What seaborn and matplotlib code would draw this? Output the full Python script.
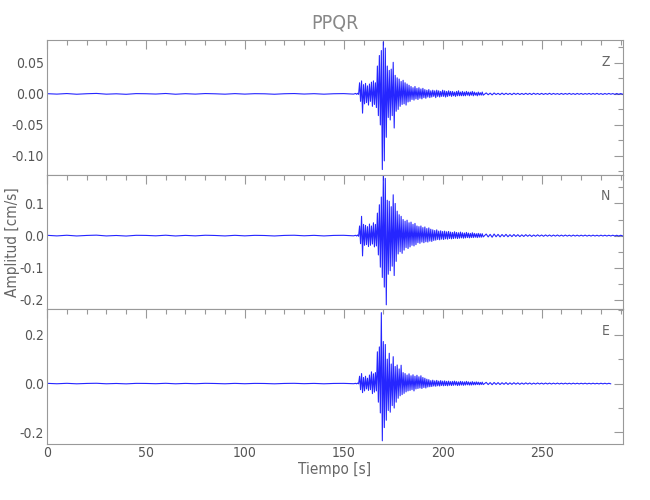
import numpy as np
import pandas as pd
import matplotlib
matplotlib.use("Agg")
import matplotlib.pyplot as plt
from matplotlib.ticker import MultipleLocator, FormatStrFormatter
import seaborn as sns

# sample times [s]: quiet part, event (upper/lower swing each second), coda
t_pre = np.arange(0, 156, 5)
t_main = np.arange(156, 221)

# ---- Z component [cm/s]
z_pre = [0.0004, -0.0003, 0.0006, -0.0005, 0.0003, 0.0008, -0.0004, 0.0002,
         -0.0006, 0.0005, 0.0003, -0.0002, 0.0007, -0.0005, 0.0004, -0.0003,
         0.0006, 0.0002, -0.0004, 0.0005, -0.0003, 0.0004, 0.0002, -0.0005,
         0.0003, 0.0006, -0.0002, 0.0004, -0.0004, 0.0003, 0.0005, -0.0003]
z_hi = [0.0008, 0.001, 0.018, 0.021, 0.015, 0.017, 0.013, 0.016, 0.019, 0.021,
        0.018, 0.045, 0.062, 0.070, 0.084, 0.074, 0.045, 0.038, 0.040, 0.051,
        0.030, 0.026, 0.024, 0.020, 0.022, 0.018, 0.016, 0.014, 0.012, 0.010,
        0.012, 0.009, 0.010, 0.008, 0.009, 0.007, 0.006, 0.007, 0.005, 0.006,
        0.005, 0.006, 0.005, 0.004, 0.006, 0.005, 0.004, 0.005, 0.004, 0.004,
        0.003, 0.004, 0.005, 0.003, 0.004, 0.003, 0.004, 0.003, 0.003, 0.004,
        0.003, 0.002, 0.003, 0.002, 0.003]
z_lo = [-0.0006, -0.0008, -0.012, -0.031, -0.016, -0.014, -0.018, -0.012, -0.020, -0.017,
        -0.022, -0.035, -0.050, -0.122, -0.108, -0.070, -0.038, -0.042, -0.035, -0.055,
        -0.028, -0.025, -0.020, -0.017, -0.016, -0.018, -0.013, -0.012, -0.009, -0.010,
        -0.008, -0.009, -0.007, -0.008, -0.006, -0.007, -0.005, -0.006, -0.005, -0.004,
        -0.006, -0.004, -0.005, -0.004, -0.004, -0.005, -0.004, -0.003, -0.004, -0.003,
        -0.004, -0.003, -0.003, -0.003, -0.003, -0.003, -0.002, -0.003, -0.002, -0.003,
        -0.002, -0.003, -0.002, -0.002, -0.002]
z_tail_hi = [0.0016, 0.0012, 0.0015, 0.001, 0.0013, 0.0011, 0.0009, 0.0012, 0.001,
             0.0008, 0.001, 0.0009, 0.0011, 0.0008, 0.0009, 0.0007, 0.001, 0.0008,
             0.0006, 0.0008, 0.0007, 0.0009, 0.0006, 0.0008, 0.0007, 0.0006, 0.0008,
             0.0007, 0.0009, 0.0006, 0.0007, 0.0008, 0.0006, 0.0007, 0.0006]
z_tail_lo = [-0.0013, -0.0015, -0.001, -0.0012, -0.0011, -0.0009, -0.0012, -0.0008, -0.001,
             -0.0009, -0.0008, -0.001, -0.0007, -0.0009, -0.0008, -0.0007, -0.0008, -0.0006,
             -0.0008, -0.0007, -0.0006, -0.0007, -0.0008, -0.0006, -0.0007, -0.0005, -0.0007,
             -0.0006, -0.0007, -0.0008, -0.0006, -0.0005, -0.0007, -0.0006, -0.0005]

# ---- N component
n_pre = [0.001, -0.0008, 0.0012, -0.001, 0.0006, 0.0015, -0.0009, 0.0005,
         -0.0012, 0.001, 0.0007, -0.0006, 0.0013, -0.001, 0.0008, -0.0007,
         0.0012, 0.0005, -0.0009, 0.001, -0.0007, 0.0009, 0.0004, -0.001,
         0.0007, 0.0012, -0.0005, 0.0009, -0.0009, 0.0007, 0.001, -0.0006]
n_hi = [0.001, 0.002, 0.030, 0.060, 0.035, 0.032, 0.028, 0.036, 0.030, 0.040,
        0.035, 0.070, 0.096, 0.120, 0.185, 0.178, 0.110, 0.107, 0.090, 0.127,
        0.100, 0.076, 0.065, 0.060, 0.050, 0.045, 0.048, 0.040, 0.042, 0.035,
        0.038, 0.030, 0.028, 0.030, 0.025, 0.027, 0.022, 0.024, 0.020, 0.018,
        0.016, 0.018, 0.014, 0.015, 0.013, 0.014, 0.012, 0.013, 0.011, 0.010,
        0.012, 0.010, 0.009, 0.011, 0.009, 0.008, 0.010, 0.008, 0.007, 0.009,
        0.007, 0.006, 0.007, 0.006, 0.006]
n_lo = [-0.001, -0.002, -0.025, -0.063, -0.030, -0.028, -0.034, -0.030, -0.026, -0.035,
        -0.032, -0.060, -0.098, -0.130, -0.160, -0.215, -0.120, -0.109, -0.095, -0.124,
        -0.080, -0.057, -0.050, -0.055, -0.045, -0.037, -0.040, -0.035, -0.030, -0.032,
        -0.028, -0.022, -0.024, -0.020, -0.022, -0.019, -0.020, -0.017, -0.018, -0.015,
        -0.014, -0.012, -0.013, -0.011, -0.012, -0.010, -0.011, -0.009, -0.010, -0.009,
        -0.008, -0.009, -0.008, -0.007, -0.008, -0.007, -0.006, -0.007, -0.006, -0.006,
        -0.005, -0.006, -0.005, -0.005, -0.004]
n_tail_hi = [0.005, 0.004, 0.005, 0.004, 0.0035, 0.004, 0.003, 0.0035, 0.003,
             0.0025, 0.003, 0.0025, 0.002, 0.0025, 0.002, 0.0022, 0.002, 0.0018,
             0.002, 0.0016, 0.0018, 0.0015, 0.0017, 0.0015, 0.0014, 0.0016, 0.0013,
             0.0015, 0.0012, 0.0014, 0.0013, 0.0012, 0.0013, 0.0011, 0.0012]
n_tail_lo = [-0.004, -0.005, -0.0035, -0.004, -0.003, -0.0035, -0.003, -0.0025, -0.003,
             -0.0025, -0.002, -0.0025, -0.002, -0.0018, -0.002, -0.0017, -0.0018, -0.0015,
             -0.0016, -0.0015, -0.0014, -0.0016, -0.0013, -0.0014, -0.0012, -0.0014, -0.0013,
             -0.0012, -0.0013, -0.0011, -0.0012, -0.0011, -0.001, -0.0012, -0.001]

# ---- E component
e_pre = [0.001, -0.0007, 0.0011, -0.0009, 0.0006, 0.0013, -0.0008, 0.0005,
         -0.0011, 0.0009, 0.0006, -0.0005, 0.0012, -0.0009, 0.0008, -0.0006,
         0.0011, 0.0004, -0.0008, 0.0009, -0.0006, 0.0008, 0.0004, -0.0009,
         0.0006, 0.0011, -0.0004, 0.0008, -0.0008, 0.0006, 0.0009, -0.0005]
e_hi = [0.001, 0.002, 0.030, 0.041, 0.025, 0.030, 0.022, 0.035, 0.048, 0.040,
        0.045, 0.130, 0.150, 0.290, 0.172, 0.160, 0.100, 0.124, 0.080, 0.110,
        0.070, 0.076, 0.060, 0.075, 0.045, 0.041, 0.035, 0.040, 0.032, 0.036,
        0.030, 0.034, 0.028, 0.032, 0.025, 0.022, 0.018, 0.016, 0.012, 0.014,
        0.011, 0.013, 0.010, 0.012, 0.010, 0.011, 0.009, 0.010, 0.008, 0.009,
        0.010, 0.008, 0.007, 0.009, 0.008, 0.007, 0.009, 0.007, 0.006, 0.008,
        0.006, 0.007, 0.006, 0.005, 0.006]
e_lo = [-0.001, -0.001, -0.025, -0.037, -0.030, -0.022, -0.028, -0.025, -0.041, -0.035,
        -0.030, -0.076, -0.120, -0.234, -0.180, -0.150, -0.110, -0.117, -0.090, -0.100,
        -0.076, -0.060, -0.050, -0.045, -0.040, -0.034, -0.030, -0.028, -0.025, -0.030,
        -0.022, -0.020, -0.018, -0.020, -0.016, -0.018, -0.014, -0.013, -0.012, -0.010,
        -0.011, -0.009, -0.010, -0.008, -0.009, -0.008, -0.009, -0.007, -0.008, -0.007,
        -0.006, -0.008, -0.007, -0.006, -0.007, -0.006, -0.005, -0.006, -0.006, -0.005,
        -0.005, -0.004, -0.005, -0.004, -0.004]
e_tail_hi = [0.005, 0.004, 0.0045, 0.004, 0.0035, 0.004, 0.003, 0.0035, 0.003,
             0.0025, 0.003, 0.0025, 0.002, 0.0025, 0.002, 0.0022, 0.002, 0.0018,
             0.002, 0.0016, 0.0018, 0.0015, 0.0017, 0.0015, 0.0014, 0.0016, 0.0013,
             0.0015, 0.0012, 0.0014, 0.0013, 0.0012]
e_tail_lo = [-0.004, -0.0045, -0.0035, -0.004, -0.003, -0.0035, -0.003, -0.0025, -0.003,
             -0.0025, -0.002, -0.0025, -0.002, -0.0018, -0.002, -0.0017, -0.0018, -0.0015,
             -0.0016, -0.0015, -0.0014, -0.0016, -0.0013, -0.0014, -0.0012, -0.0014, -0.0013,
             -0.0012, -0.0013, -0.0011, -0.0012, -0.0011]

components = ["Z", "N", "E"]
ylims = [(-0.130, 0.087), (-0.228, 0.190), (-0.245, 0.305)]
ymajor = [0.05, 0.1, 0.2]
yminor = [0.025, 0.05, 0.1]
yfmt = ["%.2f", "%.1f", "%.1f"]


def trace(pre, hi, lo, thi, tlo):
    tt = np.arange(222, 222 + 2 * len(thi), 2)
    x = np.concatenate([t_pre, np.column_stack([t_main, t_main + 0.5]).ravel(),
                        np.column_stack([tt, tt + 1]).ravel()])
    y = np.concatenate([pre, np.column_stack([hi, lo]).ravel(),
                        np.column_stack([thi, tlo]).ravel()])
    return pd.DataFrame({"t": x, "amp": y})


traces = [trace(z_pre, z_hi, z_lo, z_tail_hi, z_tail_lo),
          trace(n_pre, n_hi, n_lo, n_tail_hi, n_tail_lo),
          trace(e_pre, e_hi, e_lo, e_tail_hi, e_tail_lo)]

sns.set_style("white")
plt.rcParams["font.family"] = ["Liberation Sans Narrow", "DejaVu Sans"]
plt.rcParams["font.stretch"] = "condensed"

fig, axes = plt.subplots(3, 1, figsize=(6.5, 5), dpi=100, sharex=True,
                         gridspec_kw=dict(hspace=0))
fig.subplots_adjust(left=0.0723, right=0.958, top=0.92, bottom=0.113)

for i, ax in enumerate(axes):
    sns.lineplot(data=traces[i], x="t", y="amp", ax=ax, sort=False, estimator=None,
                 color="#0000ff", linewidth=0.8, alpha=0.85)
    ax.set_xlim(0, 291)
    ax.set_ylim(*ylims[i])
    ax.xaxis.set_major_locator(MultipleLocator(50))
    ax.xaxis.set_minor_locator(MultipleLocator(10))
    ax.yaxis.set_major_locator(MultipleLocator(ymajor[i]))
    ax.yaxis.set_minor_locator(MultipleLocator(yminor[i]))
    ax.yaxis.set_major_formatter(FormatStrFormatter(yfmt[i]))
    ax.tick_params(which="both", direction="in", top=True, right=True,
                   color="#999999", labelcolor="#555555", labelsize=10, pad=2)
    ax.tick_params(which="major", length=6.5, width=0.8)
    ax.tick_params(which="minor", length=3.5, width=0.8)
    for s in ax.spines.values():
        s.set_color("#999999")
        s.set_linewidth(0.8)
    ax.set_ylabel("")
    ax.set_xlabel("")
    ax.text(0.97, 0.84, components[i], transform=ax.transAxes, ha="center",
            va="center", color="#666666", fontsize=10)

axes[0].set_title("PPQR", color="#888888", fontsize=14, pad=8)
axes[2].set_xlabel("Tiempo [s]", color="#666666", fontsize=11, labelpad=1)
fig.text(12 / 650, 1 - 242 / 500, "Amplitud [cm/s]", rotation=90, ha="center",
         va="center", color="#666666", fontsize=11)

fig.savefig("out.png", dpi=100)
